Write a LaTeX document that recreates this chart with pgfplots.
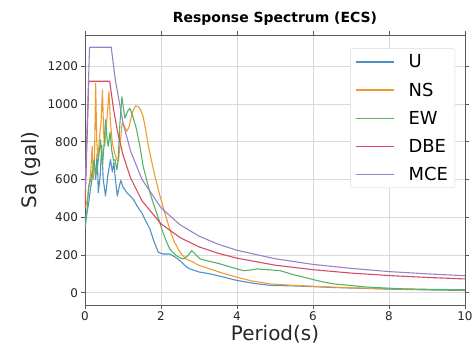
\documentclass[border=0pt]{standalone}
\usepackage{fontspec}
\setmainfont{DejaVu Sans}
\usepackage{pgfplots}
\pgfplotsset{compat=1.18}
\usetikzlibrary{calc}
\definecolor{cU}{RGB}{80,145,195}
\definecolor{cNS}{RGB}{240,155,50}
\definecolor{cEW}{RGB}{85,180,100}
\definecolor{cDBE}{RGB}{215,75,100}
\definecolor{cMCE}{RGB}{155,130,200}
\begin{document}
\begin{tikzpicture}
\begin{axis}[
 name=ax,
 scale only axis, width=380bp, height=270bp,
 xmin=0, xmax=10, ymin=-65, ymax=1365,
 xtick={0,2,...,10}, ytick={0,200,...,1200},
 grid=major, grid style={gray!30, line width=0.6bp},
 axis line style={gray!70!black, line width=0.8bp},
 tick align=outside, major tick length=3.5bp, tick style={gray!70!black, line width=0.6bp},
 ticklabel style={font=\fontsize{12}{12}\selectfont, text=black!85},
 /pgf/number format/assume math mode=true,
 /pgf/number format/1000 sep={},
 xlabel={Period(s)}, ylabel={Sa (gal)},
 label style={font=\fontsize{20}{20}\selectfont, text=black!85},
 xlabel style={yshift=3bp},
 title={\bfseries Response Spectrum (ECS)},
 title style={font=\fontsize{14}{14}\selectfont, yshift=0bp},
 legend style={at={(0.974,0.95)}, anchor=north east, draw=gray!30, rounded corners=2bp,
   fill=white, font=\fontsize{18}{18}\selectfont, row sep=9.5bp, inner xsep=5bp, inner ysep=4bp,
   /tikz/every odd column/.style={column sep=12bp}},
 legend cell align=left,
 legend image code/.code={\draw[#1, line width=1.3bp] (0bp,0bp) -- (38bp,0bp);},
 every axis plot/.append style={line width=1.1bp, line join=round},
]
\addplot[cU] coordinates {
(0,340) (0.05,420) (0.1,480) (0.15,560) (0.2,620) (0.24,700) (0.28,600) (0.32,740)
(0.35,530) (0.4,620) (0.44,780) (0.48,600) (0.54,512) (0.6,620) (0.67,705) (0.72,640)
(0.76,690) (0.8,600) (0.85,512) (0.9,560) (0.94,595) (1.0,560) (1.1,530) (1.2,510)
(1.27,495) (1.4,450) (1.49,425) (1.6,380) (1.71,337) (1.8,280) (1.93,214) (2.05,205)
(2.24,205) (2.4,185) (2.5,170) (2.65,140) (2.76,126) (3.0,110) (3.29,100) (3.6,85)
(4.0,65) (4.5,48) (4.87,39) (5.5,36) (5.92,33) (6.5,28) (7,25) (8,19) (9,15) (10,12)
};
\addlegendentry{U}
\addplot[cNS] coordinates {
(0,450) (0.05,480) (0.1,560) (0.15,640) (0.19,775) (0.22,600) (0.25,700) (0.28,1109)
(0.31,800) (0.34,705) (0.38,820) (0.42,900) (0.46,1074) (0.49,850) (0.52,775) (0.56,880)
(0.6,980) (0.63,1065) (0.67,900) (0.72,793) (0.78,740) (0.85,700) (0.88,696) (0.93,800)
(0.98,900) (1.04,880) (1.10,855) (1.16,880) (1.25,960) (1.33,990) (1.40,986) (1.46,970)
(1.53,933) (1.6,860) (1.67,775) (1.75,700) (1.84,617) (1.95,530) (2.06,450) (2.15,390)
(2.24,330) (2.35,270) (2.5,214) (2.65,180) (2.85,161) (3.0,145) (3.29,126) (3.6,105)
(4.0,82) (4.4,62) (4.87,47) (5.4,40) (5.92,35) (6.5,30) (7,26) (8,21) (9,17) (10,15)
};
\addlegendentry{NS}
\addplot[cEW] coordinates {
(0,380) (0.05,430) (0.1,565) (0.15,600) (0.2,650) (0.24,705) (0.28,620) (0.32,653)
(0.36,720) (0.41,810) (0.46,670) (0.5,780) (0.54,916) (0.58,820) (0.61,775) (0.66,850)
(0.7,760) (0.75,700) (0.79,705) (0.84,650) (0.87,700) (0.92,900) (0.97,1038) (1.01,980)
(1.05,925) (1.12,960) (1.18,977) (1.25,940) (1.36,863) (1.45,770) (1.53,670) (1.62,600)
(1.71,530) (1.82,460) (1.93,395) (2.05,320) (2.15,267) (2.25,225) (2.41,196) (2.5,185)
(2.59,179) (2.7,195) (2.81,223) (2.9,205) (3.03,179) (3.3,165) (3.55,153) (3.85,135)
(4.17,117) (4.35,120) (4.52,126) (4.8,122) (5.13,117) (5.5,95) (5.92,74) (6.2,60)
(6.53,47) (7,38) (7.41,30) (8.3,21) (9,18) (10,16)
};
\addlegendentry{EW}
\addplot[cDBE] coordinates {
(0,448) (0.1,1120) (0.65,1120) (0.75,973) (0.85,859) (1.0,730) (1.2,608) (1.5,487)
(2,365) (2.5,292) (3,243) (3.5,209) (4,183) (5,146) (6,122) (7,104) (8,91) (9,81) (10,73)
};
\addlegendentry{DBE}
\addplot[cMCE] coordinates {
(0,520) (0.12,1300) (0.69,1300) (0.8,1125) (1.0,900) (1.2,750) (1.5,600) (2,450)
(2.5,360) (3,300) (3.5,257) (4,225) (5,180) (6,150) (7,129) (8,112) (9,100) (10,90)
};
\addlegendentry{MCE}
\end{axis}
\pgfresetboundingbox
\path ($(ax.south west)+(-85bp,-41bp)$) rectangle ($(ax.north east)+(7bp,35bp)$);
\end{tikzpicture}
\end{document}
